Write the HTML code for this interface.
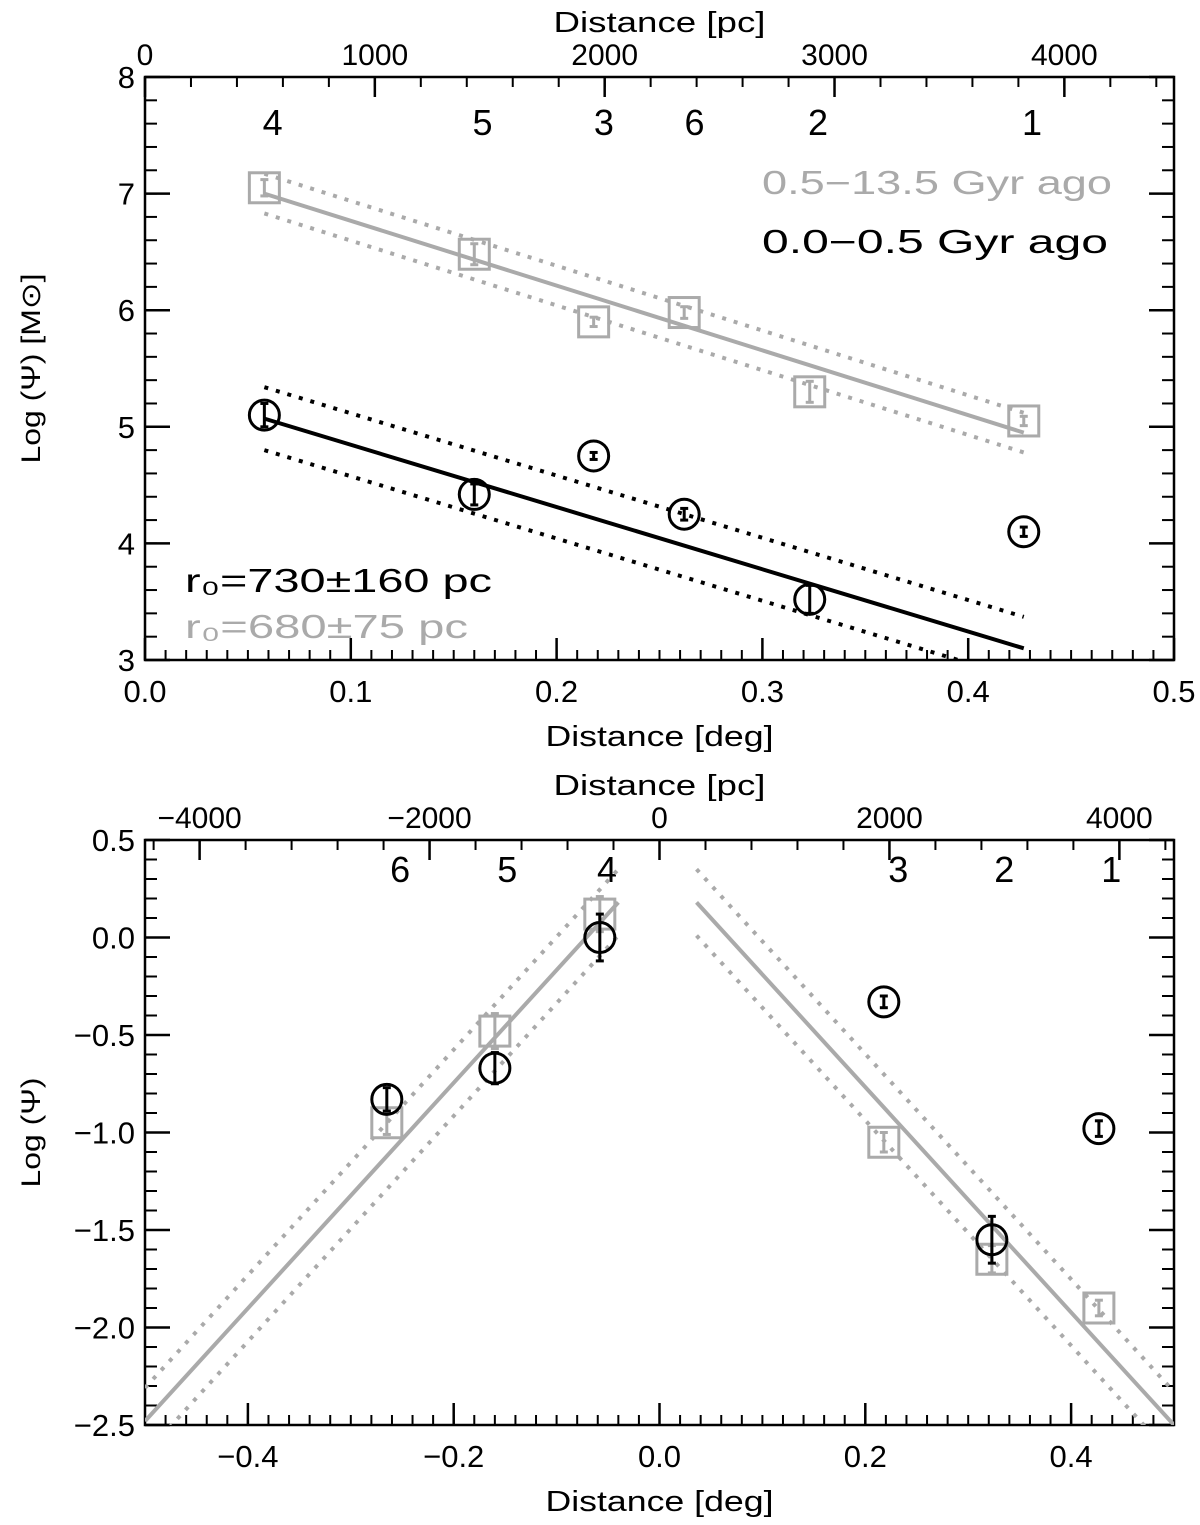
<!DOCTYPE html>
<html><head><meta charset="utf-8"><style>
body{margin:0;background:#fff}
svg text{font-family:"Liberation Sans",sans-serif}
</style></head><body>
<svg id="s" width="1200" height="1520" viewBox="0 0 1200 1520" xmlns="http://www.w3.org/2000/svg"></svg>
<script>
const topRegions=["4","5","3","6","2","1"];
const topDeg=[0.058,0.16,0.218,0.262,0.323,0.427];
const topOld=[7.05,6.48,5.9,5.98,5.3,5.05];
const topOldErr=[0.07,0.09,0.04,0.05,0.09,0.04];
const topYoung=[5.1,4.42,4.75,4.25,3.52,4.1];
const topYoungErr=[0.1,0.09,0.03,0.05,0.12,0.04];
const topOldFit=[[0.058,7.0],[0.427,4.95]];
const topYoungFit=[[0.058,5.07],[0.427,3.1]];
const topOldBand=0.17;
const topYoungBand=0.27;
const topXTicks=[0.0,0.1,0.2,0.3,0.4,0.5];
const topYTicks=[3,4,5,6,7,8];
const topPcTicks=[0,1000,2000,3000,4000];
const botRegions=["6","5","4","3","2","1"];
const botDeg=[-0.265,-0.16,-0.058,0.218,0.323,0.427];
const botOld=[-0.95,-0.48,0.12,-1.05,-1.65,-1.9];
const botOldErr=[0.06,0.09,0.09,0.05,0.07,0.04];
const botYoung=[-0.83,-0.67,0.0,-0.33,-1.55,-0.98];
const botYoungErr=[0.06,0.08,0.12,0.03,0.12,0.04];
const botFitL=[[-0.5,-2.48],[-0.04,0.18]];
const botFitR=[[0.036,0.18],[0.5,-2.5]];
const botBand=0.17;
const botXTicks=[-0.4,-0.2,0.0,0.2,0.4];
const botYTicks=[-2.5,-2.0,-1.5,-1.0,-0.5,0.0,0.5];
const botPcTicks=[-4000,-2000,0,2000,4000];

const S=document.getElementById('s');const NS="http://www.w3.org/2000/svg";
function el(t,a,p){const e=document.createElementNS(NS,t);for(const k in a)e.setAttribute(k,a[k]);(p||S).appendChild(e);return e;}
const GR="#aaaaaa";
function txt(x,y,s,size,anchor,fill,p){const t=el('text',{x:x,y:y,'font-size':size,'text-anchor':anchor||'middle',fill:fill||'#000'},p);t.textContent=s;return t;}
function fit(t,w){t.setAttribute('textLength',w);t.setAttribute('lengthAdjust','spacingAndGlyphs');}

function panel(o){
 const g=el('g',{});
 
 
 const X=v=>o.L+(v-o.x0)/(o.x1-o.x0)*(o.R-o.L);
 const Y=v=>o.B-(v-o.y0)/(o.y1-o.y0)*(o.B-o.T);
 const P=v=>o.L+(v-o.p0)/(o.p1-o.p0)*(o.R-o.L);
 const fr=el('rect',{x:o.L,y:o.T,width:o.R-o.L,height:o.B-o.T,fill:'none',stroke:'#000','stroke-width':2.5},g);
 
 for(let v=o.x0;v<=o.x1+1e-9;v+=o.xm){const x=X(v);el('line',{x1:x,y1:o.B,x2:x,y2:o.B-10,stroke:'#000','stroke-width':2},g);}
 o.xt.forEach(v=>{const x=X(v);el('line',{x1:x,y1:o.B,x2:x,y2:o.B-22,stroke:'#000','stroke-width':2.5},g);
  const t=txt(x,o.B+42,(v<0?'\u2212':'')+Math.abs(v).toFixed(1),31,'middle','#000',g);});
 for(let v=o.y0;v<=o.y1+1e-9;v+=o.ym){const y=Y(v);el('line',{x1:o.L,y1:y,x2:o.L+12,y2:y,stroke:'#000','stroke-width':2},g);el('line',{x1:o.R,y1:y,x2:o.R-12,y2:y,stroke:'#000','stroke-width':2},g);}
 o.yt.forEach(v=>{const y=Y(v);el('line',{x1:o.L,y1:y,x2:o.L+25,y2:y,stroke:'#000','stroke-width':2.5},g);el('line',{x1:o.R,y1:y,x2:o.R-25,y2:y,stroke:'#000','stroke-width':2.5},g);
  const t=txt(o.L-10,y+11,o.yfmt(v),31,'end','#000',g);});
 for(let v=Math.ceil(o.p0/o.pm)*o.pm;v<=o.p1;v+=o.pm){const x=P(v);el('line',{x1:x,y1:o.T,x2:x,y2:o.T+10,stroke:'#000','stroke-width':2},g);}
 o.pt.forEach(v=>{const x=P(v);el('line',{x1:x,y1:o.T,x2:x,y2:o.T+20,stroke:'#000','stroke-width':2.5},g);
  const t=txt(x,o.T-12,(v<0?'\u2212':'')+Math.abs(v),30,'middle','#000',g);});
 let t=txt((o.L+o.R)/2,o.B+86,'Distance [deg]',29,'middle','#000',g);fit(t,228);
 t=txt((o.L+o.R)/2,o.T-45,'Distance [pc]',29,'middle','#000',g);fit(t,212);
 t=txt(0,0,o.ylab,27,'middle','#000',g);fit(t,o.ylw);t.setAttribute('transform','translate(40,'+((o.T+o.B)/2)+') rotate(-90)');
 o.reg.forEach((r,i)=>{const t=txt(X(o.regX[i]),o.regY,r,36,'middle','#000',g);});
 const cp=el('clipPath',{id:'c'+o.name},g);el('rect',{x:o.L,y:o.T,width:o.R-o.L,height:o.B-o.T},cp);
 const gg=el('g',{'clip-path':'url(#c'+o.name+')'},g);
 const fitLine=(pts,off,col,w,dash,name)=>{const l=el('line',{x1:X(pts[0][0]),y1:Y(pts[0][1]+off),x2:X(pts[1][0]),y2:Y(pts[1][1]+off),stroke:col,'stroke-width':w},gg);if(dash)l.setAttribute('stroke-dasharray',dash);};
 o.fits.forEach(f=>{fitLine(f.p,0,f.c,f.w,null,'fit-line');fitLine(f.p,f.b,f.c,4,'4 8','fit-upper-bound');fitLine(f.p,-f.b,f.c,4,'4 8','fit-lower-bound');});
 o.deg.forEach((d,i)=>{const x=X(d);
  let y=Y(o.old[i]);let r=el('rect',{x:x-15,y:y-15,width:30,height:30,fill:'none',stroke:GR,'stroke-width':3},g);
  let e1=Y(o.old[i]+o.oe[i]),e2=Y(o.old[i]-o.oe[i]);el('line',{x1:x,y1:e1,x2:x,y2:e2,stroke:GR,'stroke-width':3},g);el('line',{x1:x-4,y1:e1,x2:x+4,y2:e1,stroke:GR,'stroke-width':3},g);el('line',{x1:x-4,y1:e2,x2:x+4,y2:e2,stroke:GR,'stroke-width':3},g);
  y=Y(o.yng[i]);let c=el('circle',{cx:x,cy:y,r:15,fill:'none',stroke:'#000','stroke-width':3},g);
  e1=Y(o.yng[i]+o.ye[i]);e2=Y(o.yng[i]-o.ye[i]);el('line',{x1:x,y1:e1,x2:x,y2:e2,stroke:'#000','stroke-width':3},g);el('line',{x1:x-4,y1:e1,x2:x+4,y2:e1,stroke:'#000','stroke-width':3},g);el('line',{x1:x-4,y1:e2,x2:x+4,y2:e2,stroke:'#000','stroke-width':3},g);
 });
 return g;
}
const g1=panel({name:'top-panel',L:145,R:1174,T:77,B:660,x0:0,x1:0.5,y0:3,y1:8,xm:0.01,ym:0.2,xt:topXTicks,yt:topYTicks,p0:0,p1:4477,pm:200,pt:topPcTicks,
 yfmt:v=>String(v),ylab:'Log (\u03A8) [M\u2299]',ylw:190,reg:topRegions,regX:[0.062,0.164,0.223,0.267,0.327,0.431],regY:135,
 fits:[{p:topOldFit,b:topOldBand,c:GR,w:4},{p:topYoungFit,b:topYoungBand,c:'#000',w:4}],
 deg:topDeg,old:topOld,oe:topOldErr,yng:topYoung,ye:topYoungErr});
let t=txt(762,194,'0.5\u221213.5 Gyr ago',33,'start',GR,g1);fit(t,350);
t=txt(762,253,'0.0\u22120.5  Gyr ago',33,'start','#000',g1);fit(t,346);
t=txt(185,592,'r\u2080=730\u00B1160 pc',33,'start','#000',g1);fit(t,307);
t=txt(185,638,'r\u2080=680\u00B175 pc',33,'start',GR,g1);fit(t,283);
panel({name:'bottom-panel',L:145,R:1174,T:840,B:1425,x0:-0.5,x1:0.5,y0:-2.5,y1:0.5,xm:0.02,ym:0.1,xt:botXTicks,yt:botYTicks,p0:-4475,p1:4475,pm:400,pt:botPcTicks,
 yfmt:v=>(v<0?'\u2212':'')+Math.abs(v).toFixed(1),ylab:'Log (\u03A8)',ylw:110,reg:botRegions,regX:[-0.252,-0.148,-0.051,0.232,0.335,0.439],regY:882,
 fits:[{p:botFitL,b:botBand,c:GR,w:4},{p:botFitR,b:botBand,c:GR,w:4}],
 deg:botDeg,old:botOld,oe:botOldErr,yng:botYoung,ye:botYoungErr});
</script>
</body></html>
